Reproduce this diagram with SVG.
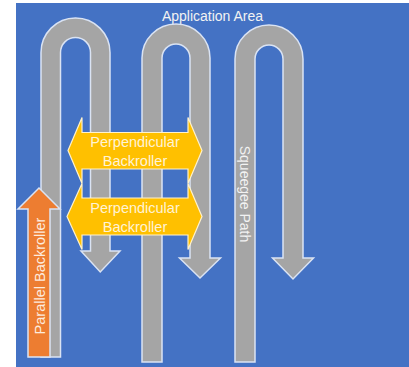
<svg xmlns="http://www.w3.org/2000/svg" width="409" height="367" viewBox="0 0 409 367">
<style>
.bg{fill:#4472C4}
.path{fill:#A5A5A5;stroke:#DAE3F3;stroke-width:1.5;stroke-linejoin:miter}
.perp{fill:#FFC000;stroke:#FFF2CC;stroke-width:1.2}
.par{fill:#ED7D31;stroke:#DAE3F3;stroke-width:1.5}
.t{font-family:"Liberation Sans",Arial,sans-serif;font-size:14px;text-anchor:middle}
.tw{fill:#F2F2F2}
.ty{fill:#FFF3D6;font-size:14.5px}
.to{fill:#FDEBDD;font-size:14.5px}
</style>
<rect class="bg" x="16" y="3" width="393" height="364"/>
<g id="title"><text class="t tw" x="212.5" y="20.5">Application Area</text></g>
<g id="connectors">
<path id="uturn1" class="path" d="M41,357 L41,52.5 A34.5,34.5 0 0 1 110,52.5 L110,251 L120,251 L100.25,272 L81,251 L90.5,251 L90.5,52.5 A15,15 0 0 0 60.5,52.5 L60.5,357 Z"/>
<path id="uturn2" class="path" d="M142,362 L142,58 A34,34 0 0 1 210,58 L210,258 L220.5,258 L200,278 L179.5,258 L190,258 L190,58 A14,14 0 0 0 162,58 L162,362 Z"/>
<path id="uturn3" class="path" d="M235,362 L235,59 A34,34 0 0 1 303,59 L303,258 L313.5,258 L293,279 L272.5,258 L283,258 L283,59 A14,14 0 0 0 255,59 L255,362 Z"/>
</g>
<g id="squeegee-label"><text class="t tw" transform="translate(244.5,194) rotate(90)" y="5">Squeegee Path</text></g>
<g id="perp1">
<path class="perp" d="M68,150.5 L82,117.5 L82,132.5 L188,132.5 L188,117.5 L202,150.5 L188,183.5 L188,169 L82,169 L82,183.5 Z"/>
<text class="t ty" x="135" y="146.5">Perpendicular</text>
<text class="t ty" x="135" y="165.5">Backroller</text>
</g>
<g id="perp2">
<path class="perp" d="M67,216.5 L82,183.5 L82,198 L188,198 L188,183.5 L202,216.5 L188,249.5 L188,235 L82,235 L82,249.5 Z"/>
<text class="t ty" x="135" y="213">Perpendicular</text>
<text class="t ty" x="135" y="231.5">Backroller</text>
</g>
<g id="parallel">
<path class="par" d="M39,188 L60,209 L50,209 L50,357 L28,357 L28,209 L18,209 Z"/>
<text class="t to" transform="translate(40,276) rotate(-90)" y="5">Parallel Backroller</text>
</g>
</svg>
